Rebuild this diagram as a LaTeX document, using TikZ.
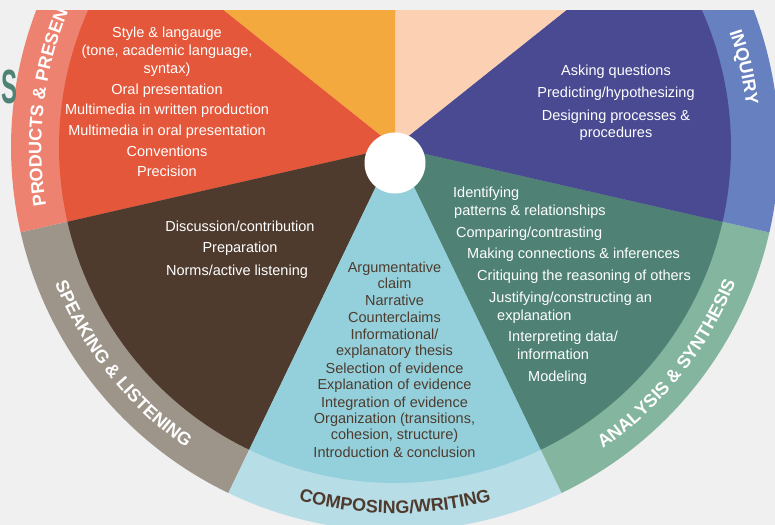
\documentclass[tikz,border=0pt]{standalone}
\usepackage{fontspec}
\usepackage{graphicx}
\setmainfont{Liberation Sans}
\usetikzlibrary{decorations.text}
\definecolor{bg}{HTML}{F0F0F0}
\definecolor{peach}{HTML}{FCD0B2}
\definecolor{orangew}{HTML}{F3A93E}
\definecolor{redw}{HTML}{E4573A}
\definecolor{pinkr}{HTML}{EE8271}
\definecolor{brownw}{HTML}{4E3B2E}
\definecolor{grayr}{HTML}{9E958A}
\definecolor{bluew}{HTML}{93D0DC}
\definecolor{bluer}{HTML}{B7DDE6}
\definecolor{greenw}{HTML}{4F8275}
\definecolor{sager}{HTML}{83B59F}
\definecolor{purplew}{HTML}{4A4A92}
\definecolor{inqr}{HTML}{6780C0}
\newcommand{\ringfont}{\fontsize{18bp}{18bp}\selectfont\bfseries}
\begin{document}
\begin{tikzpicture}[x=1bp,y=1bp,
  wtext/.style={font=\fontsize{14.5bp}{17bp}\selectfont, text=white, anchor=base, inner sep=0pt},
  dtext/.style={wtext, text=brownw},
  gtext/.style={wtext, anchor=base west},
  ringtext/.style={decorate, decoration={text along path, text align=center, text color=#1}}
]
\fill[bg] (0,0) rectangle (775,525);
\useasboundingbox (0,0) rectangle (775,525);
\coordinate (C) at (395,378);
\begin{scope}
\clip (0,0) rectangle (775,514);
% outer ring segments (as full slices)
\foreach \a/\b/\c in {141.429/192.857/pinkr, 192.857/244.286/grayr, 244.286/295.714/bluer, 295.714/347.143/sager, 347.143/398.571/inqr}{
  \fill[\c] (C) -- ([shift={(\a:384bp)}]C) arc[start angle=\a, end angle=\b, radius=384bp] -- cycle;
}
% inner wedges
\foreach \a/\b/\c in {38.571/90/peach, 90/141.429/orangew, 141.429/192.857/redw, 192.857/244.286/brownw, 244.286/295.714/bluew, 295.714/347.143/greenw, 347.143/398.571/purplew}{
  \fill[\c] (C) -- ([shift={(\a:336bp)}]C) arc[start angle=\a, end angle=\b, radius=336bp] -- cycle;
}
% ring labels
\path[ringtext=white, decoration={text={|\ringfont|PRODUCTS {\&} PRESENTATIONS}}]
  ([shift={(212.14:353.6bp)}]C) arc[start angle=212.14, end angle=122.14, radius=353.6bp];
\path[ringtext=white, decoration={text={|\ringfont|INQUIRY}}]
  ([shift={(42.86:353.6bp)}]C) arc[start angle=42.86, end angle=-17.14, radius=353.6bp];
\path[ringtext=white, decoration={text={|\ringfont|SPEAKING {\&} LISTENING}}]
  ([shift={(173.57:366.4bp)}]C) arc[start angle=173.57, end angle=263.57, radius=366.4bp];
\path[ringtext=brownw, decoration={text={|\ringfont|COMPOSING/WRITING}}]
  ([shift={(225:366.4bp)}]C) arc[start angle=225, end angle=315, radius=366.4bp];
\path[ringtext=white, decoration={text={|\ringfont|ANALYSIS {\&} SYNTHESIS}}]
  ([shift={(276.43:366.4bp)}]C) arc[start angle=276.43, end angle=366.43, radius=366.4bp];
% red wedge
\node[wtext] (r1) at (167,487) {Style \& langauge};
\node[wtext] (r2) at (167,469) {(tone, academic language,};
\node[wtext] (r3) at (167,451) {syntax)};
\node[wtext] (r4) at (167,430) {Oral presentation};
\node[wtext] (r5) at (167,410) {Multimedia in written production};
\node[wtext] (r6) at (167,389) {Multimedia in oral presentation};
\node[wtext] (r7) at (167,368) {Conventions};
\node[wtext] (r8) at (167,348) {Precision};
\end{scope}
% hub
\node[circle, fill=white, minimum size=61bp, inner sep=0pt] (hub) at (395,362) {};
% purple wedge
\node[wtext] (p1) at (616,449) {Asking questions};
\node[wtext] (p2) at (616,427) {Predicting/hypothesizing};
\node[wtext] (p3) at (616,404.3) {Designing processes \&};
\node[wtext] (p4) at (616,387.7) {procedures};
% brown wedge
\node[wtext] (b1) at (240,293) {Discussion/contribution};
\node[wtext] (b2) at (240,272) {Preparation};
\node[wtext] (b3) at (237,249) {Norms/active listening};
% light blue wedge
\node[dtext] (l1) at (394.5,252.7) {Argumentative};
\node[dtext] (l2) at (394.5,236) {claim};
\node[dtext] (l3) at (394.5,219) {Narrative};
\node[dtext] (l4) at (394.5,202.7) {Counterclaims};
\node[dtext] (l5) at (394.5,185.7) {Informational/};
\node[dtext] (l6) at (394.5,169) {explanatory thesis};
\node[dtext] (l7) at (394.5,151.7) {Selection of evidence};
\node[dtext] (l8) at (394.5,135) {Explanation of evidence};
\node[dtext] (l9) at (394.5,117.7) {Integration of evidence};
\node[dtext] (l10) at (394.5,101.7) {Organization (transitions,};
\node[dtext] (l11) at (394.5,85) {cohesion, structure)};
\node[dtext] (l12) at (394.5,67.7) {Introduction \& conclusion};
% green wedge
\node[gtext] (g1) at (453,327) {Identifying};
\node[gtext] (g2) at (454,309) {patterns \& relationships};
\node[gtext] (g3) at (456,287) {Comparing/contrasting};
\node[gtext] (g4) at (467,266) {Making connections \& inferences};
\node[gtext] (g5) at (477,244) {Critiquing the reasoning of others};
\node[gtext] (g6) at (489,222) {Justifying/constructing an};
\node[gtext] (g7) at (497,204) {explanation};
\node[gtext] (g8) at (508,183) {Interpreting data/};
\node[gtext] (g9) at (517,165) {information};
\node[gtext] (g10) at (528,143) {Modeling};
% stray letter at left edge
\node[text=greenw, font=\fontsize{48bp}{48bp}\selectfont\bfseries, inner sep=0pt] (s) at (10,438) {\scalebox{0.5}[1]{S}};
\end{tikzpicture}
\end{document}
